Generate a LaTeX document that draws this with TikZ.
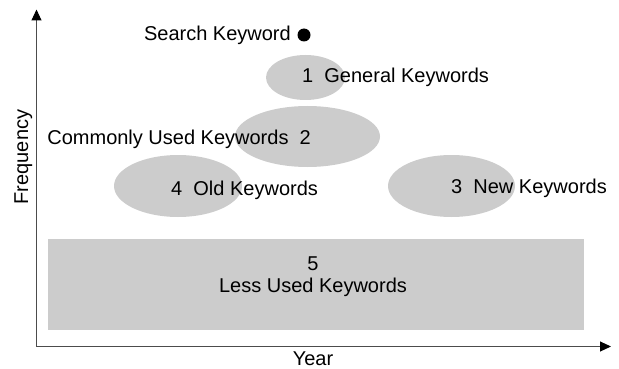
\documentclass[tikz,border=0pt]{standalone}
\usepackage{fontspec}
\setmainfont{Liberation Sans}
\usetikzlibrary{arrows.meta,shapes.geometric}
\begin{document}
\begin{tikzpicture}[x=1pt,y=-1pt,
  lbl/.style={inner sep=0pt, font=\fontsize{20}{22}\selectfont},
  blob/.style={ellipse, fill=black!20, draw=none, inner sep=0pt},
  band/.style={rectangle, fill=black!20, draw=none, inner sep=0pt},
  axis/.style={-{Triangle[length=11pt,width=10pt,fill=black,color=black]}, line width=1pt, black!70}]
\useasboundingbox (0,0) rectangle (619,369);

% axes
\coordinate (origin) at (36.5,346.5);
\coordinate (ytip) at (36.5,9.5);
\coordinate (xtip) at (611,346.5);
\draw[axis] (origin) -- (ytip);
\draw[axis] (origin) -- (xtip);
\node[lbl, anchor=base] (year) at (313,365) {Year};
\node[lbl, anchor=base, rotate=90] (freq) at (28,157) {Frequency};

% keyword regions
\node[band, minimum width=536pt, minimum height=91pt] (r5) at (316,284.5) {};
\node[blob, minimum width=79pt, minimum height=45pt] (e1) at (305.5,77.5) {};
\node[blob, minimum width=145pt, minimum height=61pt] (e2) at (307.5,136.5) {};
\node[blob, minimum width=128pt, minimum height=62pt] (e4) at (178,186) {};
\node[blob, minimum width=127pt, minimum height=62pt] (e3) at (451.5,186) {};

% labels
\node[lbl, anchor=base east] (search) at (291,41) {Search Keyword};
\fill (304,35) circle [radius=6.5] node (dot) {};
\node[lbl, anchor=base west] (t1) at (302,82) {1\ \ General Keywords};
\node[lbl, anchor=base east] (t2) at (311,144) {Commonly Used Keywords\ \ 2};
\node[lbl, anchor=base west] (t4) at (171,195) {4\ \ Old Keywords};
\node[lbl, anchor=base west] (t3) at (451,193) {3\ \ New Keywords};
\node[lbl, anchor=base] (t5) at (313,270) {5};
\node[lbl, anchor=base] (t5b) at (313,292) {Less Used Keywords};
\end{tikzpicture}
\end{document}
